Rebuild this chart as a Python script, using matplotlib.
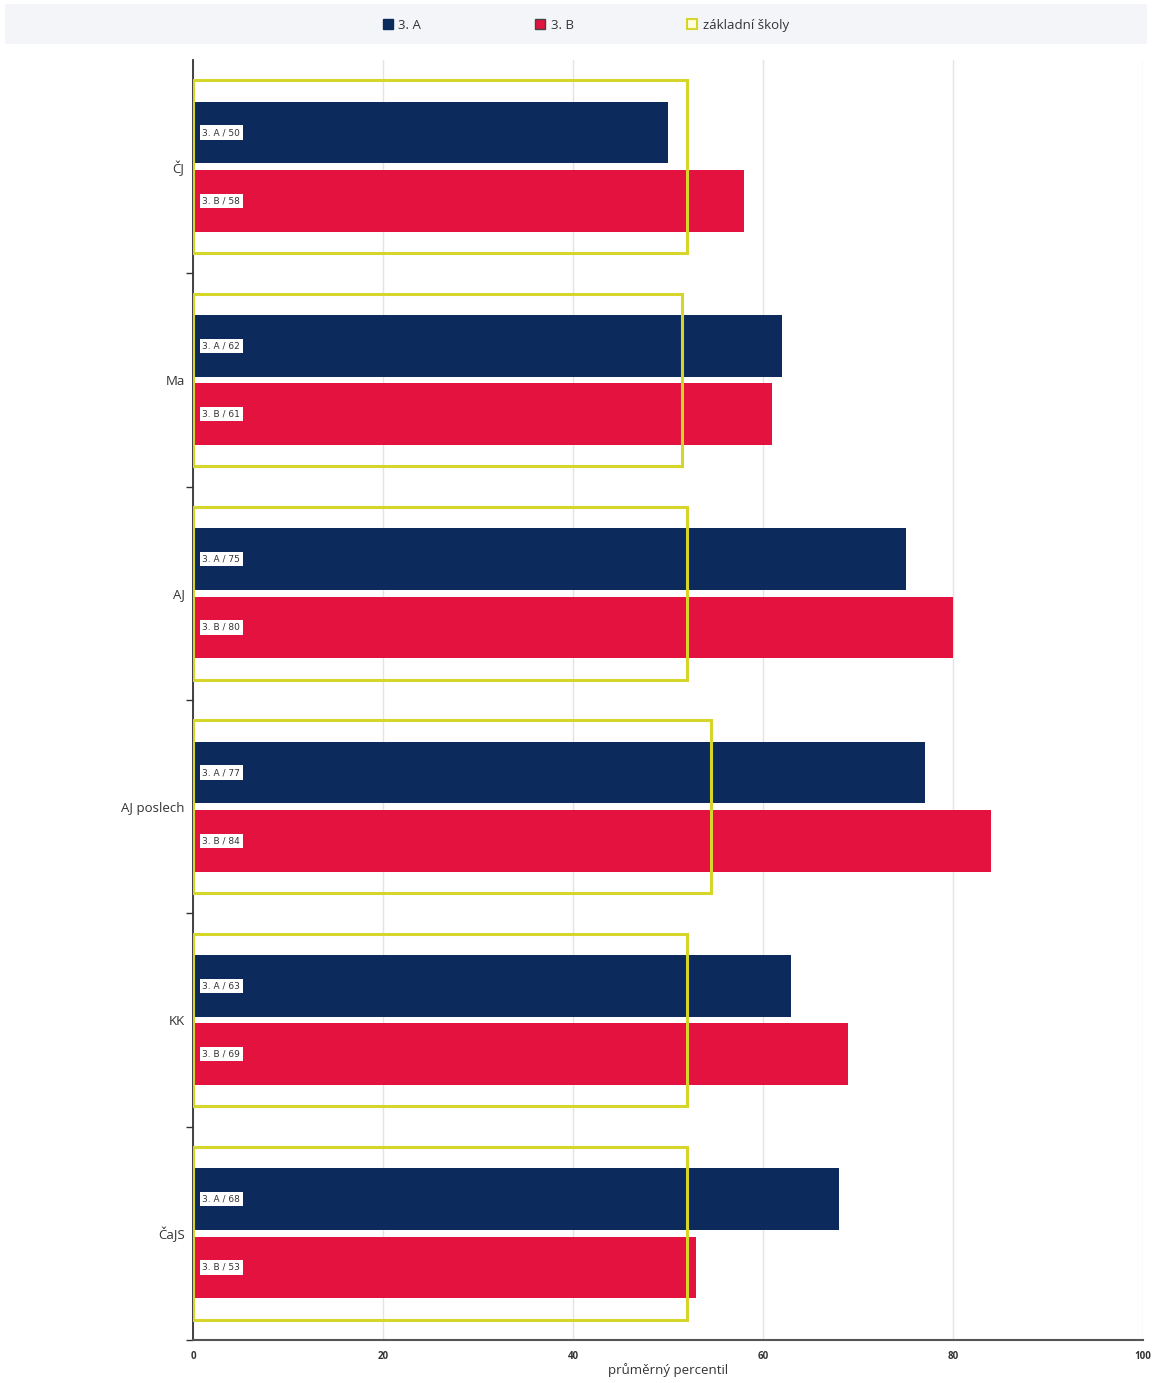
import matplotlib
matplotlib.use("Agg")
import matplotlib.pyplot as plt
from matplotlib.lines import Line2D
from matplotlib.patches import Rectangle
import numpy as np

plt.rcParams['font.family'] = ['Open Sans', 'DejaVu Sans']

categories = ["ČJ", "Ma", "AJ", "AJ poslech", "KK", "ČaJS"]
class_a = [50, 62, 75, 77, 63, 68]
class_b = [58, 61, 80, 84, 69, 53]
schools = [52, 51.5, 52, 54.5, 52, 52]
series_names = ["3. A", "3. B", "základní školy"]
x_ticks = [0, 20, 40, 60, 80, 100]

navy = "#0c2b5c"
red = "#e3123f"
yellow = "#d6d62a"

fig = plt.figure(figsize=(11.52, 13.83), dpi=100)
fig.patches.append(Rectangle((0.004, 0.968), 0.992, 0.029, transform=fig.transFigure,
                             facecolor="#f4f5f9", edgecolor="none", zorder=0))
ax = fig.add_axes([0.1675, 0.0311, 0.8247, 0.9255])

y = np.arange(len(categories))
off = 0.16
h = 0.29
ax.barh(y - off, class_a, height=h, color=navy, zorder=2)
ax.barh(y + off, class_b, height=h, color=red, zorder=2)
ax.barh(y, schools, height=0.81, fill=False, edgecolor=yellow, linewidth=2.2, zorder=3)

for i in range(len(categories)):
    ax.text(1.0, y[i] - off, f"3. A / {class_a[i]}", fontsize=6.5, color="#333333",
            va="center", ha="left", zorder=4, family="DejaVu Sans",
            bbox=dict(boxstyle="square,pad=0.3", facecolor="white", edgecolor="none"))
    ax.text(1.0, y[i] + off, f"3. B / {class_b[i]}", fontsize=6.5, color="#333333",
            va="center", ha="left", zorder=4, family="DejaVu Sans",
            bbox=dict(boxstyle="square,pad=0.3", facecolor="white", edgecolor="none"))

ax.set_ylim(len(categories) - 0.5, -0.5)
ax.set_xlim(0, 100)
ax.set_yticks(y)
ax.set_yticklabels(categories, fontsize=9.5, color="#333333")
ax.set_yticks(np.arange(0.5, len(categories) + 0.5, 1), minor=True)
ax.tick_params(axis="y", which="major", length=0, pad=6)
ax.tick_params(axis="y", which="minor", length=5, width=1, color="#333333")
ax.set_xticks(x_ticks)
ax.set_xticklabels([str(t) for t in x_ticks], fontsize=7, fontweight="bold", color="#333333")
ax.tick_params(axis="x", length=0, pad=8)
ax.grid(axis="x", color="#e4e4e4", linewidth=1, zorder=0)
ax.set_axisbelow(True)
for s in ["top", "right"]:
    ax.spines[s].set_visible(False)
ax.spines["left"].set_color("#333333")
ax.spines["left"].set_linewidth(1.3)
ax.spines["bottom"].set_color("#555555")
ax.spines["bottom"].set_linewidth(1.5)
ax.set_xlabel("průměrný percentil", fontsize=9.5, color="#333333", labelpad=1)

handles = [
    Line2D([], [], marker="s", linestyle="none", markersize=7, markerfacecolor=navy, markeredgecolor=navy),
    Line2D([], [], marker="s", linestyle="none", markersize=7, markerfacecolor=red, markeredgecolor="#444444"),
    Line2D([], [], marker="s", linestyle="none", markersize=7, markerfacecolor="#fdfde0", markeredgecolor=yellow, markeredgewidth=1.5),
]
fig.legend(handles, series_names, loc="center", bbox_to_anchor=(0.508, 0.9815), ncol=3,
           frameon=False, fontsize=9.5, columnspacing=8.5, handletextpad=0.3, handlelength=1.0,
           labelcolor="#333333")

fig.savefig("out.png", dpi=100)
